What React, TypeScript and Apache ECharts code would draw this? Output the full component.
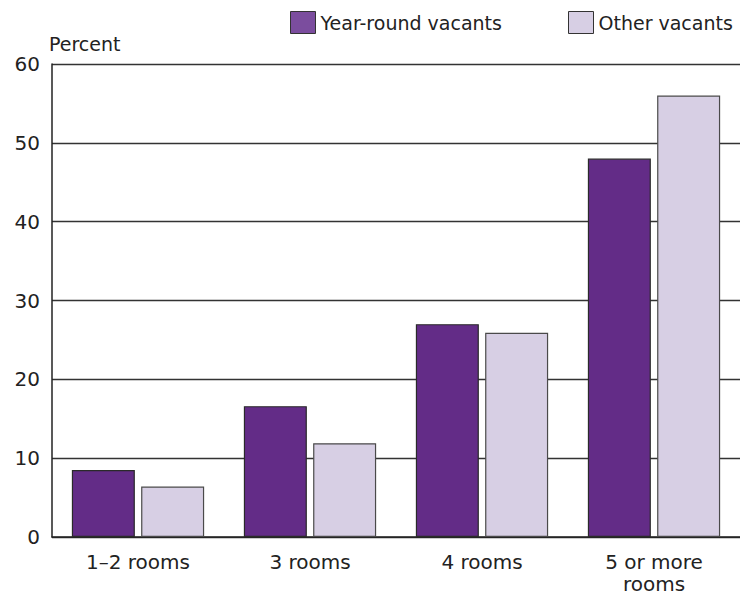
import React, { useEffect, useRef } from "react";
import * as echarts from "echarts";

const categories = ["1–2 rooms", "3 rooms", "4 rooms", "5 or more\nrooms"];
const yearRound = [8.5, 16.6, 27, 48];
const otherVacants = [6.4, 11.9, 25.9, 56];
const seriesNames = ["Year-round vacants", "Other vacants"];

export default function App() {
  const ref = useRef<HTMLDivElement>(null);
  useEffect(() => {
    if (!ref.current) return;
    const chart = echarts.init(ref.current, null, { renderer: "svg" });
    const font = "'DejaVu Sans', sans-serif";
    chart.setOption({
      animation: false,
      textStyle: { fontFamily: font },
      legend: [
        {
          left: 285,
          top: 6,
          icon: "rect",
          itemWidth: 25,
          itemHeight: 22,
          textStyle: { fontSize: 19, color: "#222", fontFamily: font },
          data: [{ name: seriesNames[0], itemStyle: { color: "#7b4d9e", borderColor: "#333", borderWidth: 1 } }],
        },
        {
          left: 563,
          top: 6,
          icon: "rect",
          itemWidth: 25,
          itemHeight: 22,
          textStyle: { fontSize: 19, color: "#222", fontFamily: font },
          data: [{ name: seriesNames[1], itemStyle: { color: "#d7cfe4", borderColor: "#333", borderWidth: 1 } }],
        },
      ],
      grid: { left: 52, right: -6, top: 64, bottom: 58, containLabel: false },
      xAxis: {
        type: "category",
        data: categories,
        axisLine: { lineStyle: { color: "#222", width: 1.5 } },
        axisTick: { show: false },
        axisLabel: { fontSize: 20, color: "#222", margin: 14, lineHeight: 22, fontFamily: font },
      },
      yAxis: {
        type: "value",
        min: 0,
        max: 60,
        interval: 10,
        name: "Percent",
        nameLocation: "end",
        nameGap: 11,
        nameTextStyle: { fontSize: 19, color: "#222", align: "left", padding: [0, 0, 0, -3], fontFamily: font },
        axisLine: { show: true, lineStyle: { color: "#222", width: 1.5 } },
        axisTick: { show: false },
        axisLabel: { fontSize: 20, color: "#222", margin: 12, fontFamily: font },
        splitLine: { lineStyle: { color: "#333", width: 1.3 } },
      },
      series: [
        {
          name: seriesNames[0],
          type: "bar",
          data: yearRound,
          barWidth: 63,
          barGap: "10%",
          itemStyle: { color: "#632c87", borderColor: "#2a2a2a", borderWidth: 1.2 },
        },
        {
          name: seriesNames[1],
          type: "bar",
          data: otherVacants,
          barWidth: 63,
          barGap: "10%",
          itemStyle: { color: "#d7cfe4", borderColor: "#4a4a4a", borderWidth: 1.2 },
        },
      ],
    });
    return () => chart.dispose();
  }, []);
  return <div ref={ref} style={{ width: 740, height: 595, position: "absolute", left: 0, top: 0 }} />;
}
